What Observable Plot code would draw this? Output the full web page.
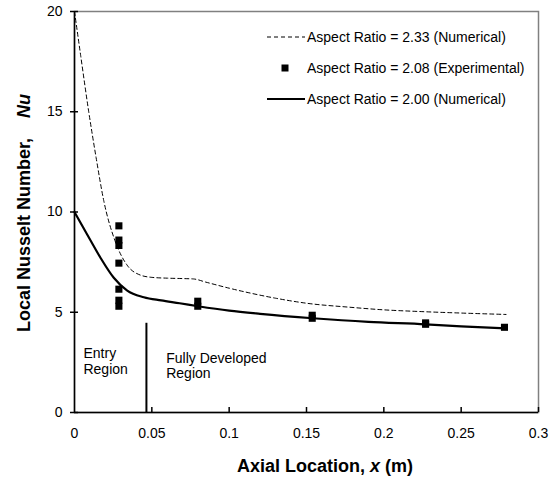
<!DOCTYPE html>
<html>
<head>
<meta charset="utf-8">
<script src="https://cdn.jsdelivr.net/npm/d3@7"></script>
<script src="https://cdn.jsdelivr.net/npm/@observablehq/plot@0.6"></script>
<style>
  html, body { margin: 0; padding: 0; background: white; }
</style>
</head>
<body>
<div id="chart"></div>
<script>
// ---- data ----
const xTicks = [0, 0.05, 0.1, 0.15, 0.2, 0.25, 0.3];
const yTicks = [0, 5, 10, 15, 20];

// Aspect Ratio = 2.33 (Numerical), dashed
const ar233X = [0, 0.004, 0.0092, 0.014, 0.0189, 0.0265, 0.034, 0.0427, 0.05, 0.06, 0.07, 0.077, 0.085, 0.1, 0.114, 0.13, 0.15, 0.178, 0.2, 0.222, 0.25, 0.279];
const ar233Y = [20, 17.8, 15.0, 12.7, 10.57, 8.5, 7.35, 6.85, 6.74, 6.7, 6.68, 6.66, 6.5, 6.2, 5.95, 5.7, 5.45, 5.25, 5.12, 5.04, 4.96, 4.89];

// Aspect Ratio = 2.00 (Numerical), solid
const ar200X = [0, 0.005, 0.0093, 0.0168, 0.0254, 0.0341, 0.0448, 0.056, 0.068, 0.08, 0.1, 0.12, 0.154, 0.19, 0.227, 0.25, 0.279];
const ar200Y = [10, 9.31, 8.73, 7.72, 6.72, 6.08, 5.75, 5.59, 5.45, 5.3, 5.08, 4.92, 4.7, 4.52, 4.4, 4.3, 4.2];

// Aspect Ratio = 2.08 (Experimental), squares
const expX = [0.0287, 0.0287, 0.0287, 0.0287, 0.0287, 0.0287, 0.0287, 0.0797, 0.0797, 0.1537, 0.1537, 0.227, 0.227, 0.278];
const expY = [9.31, 8.6, 8.33, 7.45, 6.15, 5.6, 5.3, 5.55, 5.3, 4.85, 4.7, 4.47, 4.4, 4.25];

const legendLabels = [
  "Aspect Ratio = 2.33 (Numerical)",
  "Aspect Ratio = 2.08 (Experimental)",
  "Aspect Ratio = 2.00 (Numerical)"
];

const boundaryX = [0.0465];
const boundaryTop = [4.45];

const noteLabels = ["Entry\nRegion", "Fully Developed\nRegion"];
const noteX = [0.0058, 0.0593];
const noteY = [2.57, 2.35];

// ---- tables built from arrays ----
const ar233 = ar233X.map((x, i) => ({x, y: ar233Y[i]}));
const ar200 = ar200X.map((x, i) => ({x, y: ar200Y[i]}));
const exp = expX.map((x, i) => ({x, y: expY[i]}));
const boundary = boundaryX.map((x, i) => ({x, top: boundaryTop[i]}));
const notes = noteLabels.map((label, i) => ({label, x: noteX[i], y: noteY[i]}));

const font = "'Liberation Sans', Arial, Helvetica, sans-serif";

const chart = Plot.plot({
  width: 556,
  height: 477,
  marginLeft: 74,
  marginRight: 18,
  marginTop: 11,
  marginBottom: 65,
  style: {fontFamily: font, fontSize: "14px", background: "white", color: "black", overflow: "visible"},
  x: {domain: [0, 0.3]},
  y: {domain: [0, 20]},
  marks: [
    Plot.frame({stroke: "#808080", strokeWidth: 1.5}),
    // inward x ticks (5px) and crossing y ticks (8px)
    Plot.tickX(xTicks.slice(1), {x: d => d, insetTop: 396, stroke: "black", strokeWidth: 1.5}),
    Plot.tickY(yTicks, {y: d => d, insetRight: 456, dx: -4, stroke: "black", strokeWidth: 1.5}),
    Plot.ruleX([0], {stroke: "black", strokeWidth: 1.5}),
    Plot.ruleY([0], {stroke: "black", strokeWidth: 1.5}),
    Plot.axisX({ticks: xTicks, tickSize: 0, tickPadding: 16, tickFormat: d => String(d), label: null, fontSize: 14}),
    Plot.axisY({ticks: yTicks, tickSize: 0, tickPadding: 12, tickFormat: d => String(d), label: null, fontSize: 14}),
    Plot.ruleX(boundary, {x: "x", y1: 0, y2: "top", stroke: "black", strokeWidth: 2}),
    Plot.text(notes, {x: "x", y: "y", text: "label", textAnchor: "start", lineHeight: 1.1, fontSize: 14, fill: "black"}),
    Plot.line(ar233, {x: "x", y: "y", curve: "monotone-x", stroke: "black", strokeWidth: 1, strokeDasharray: "4,3"}),
    Plot.line(ar200, {x: "x", y: "y", curve: "monotone-x", stroke: "black", strokeWidth: 2.2}),
    Plot.dot(exp, {x: "x", y: "y", symbol: "square", r: 4, fill: "black", stroke: "none"})
  ]
});

document.getElementById("chart").appendChild(chart);

const svg = d3.select(chart);

// Axis titles
const xt = svg.append("text")
  .attr("x", 325).attr("y", 472)
  .attr("text-anchor", "middle")
  .attr("font-family", font).attr("font-size", 18).attr("font-weight", "bold")
  .attr("fill", "black");
xt.append("tspan").text("Axial Location, ");
xt.append("tspan").attr("font-style", "italic").text("x");
xt.append("tspan").text(" (m)");

const yt = svg.append("text")
  .attr("transform", "translate(30,213) rotate(-90)")
  .attr("text-anchor", "middle")
  .attr("font-family", font).attr("font-size", 18).attr("font-weight", "bold")
  .attr("fill", "black");
yt.append("tspan").text("Local Nusselt Number,\u00a0\u00a0\u00a0 ");
yt.append("tspan").attr("font-style", "italic").text("Nu");

// Legend
const lg = svg.append("g").attr("font-family", font).attr("font-size", 14)
  .attr("fill", "black").attr("text-anchor", "start");
const rowY = [37, 68, 99];
lg.append("line").attr("x1", 267).attr("x2", 305).attr("y1", rowY[0]).attr("y2", rowY[0])
  .attr("stroke", "black").attr("stroke-width", 1).attr("stroke-dasharray", "4,3");
lg.append("rect").attr("x", 281.5).attr("y", rowY[1] - 3.5).attr("width", 7).attr("height", 7).attr("fill", "black");
lg.append("line").attr("x1", 267).attr("x2", 305).attr("y1", rowY[2]).attr("y2", rowY[2])
  .attr("stroke", "black").attr("stroke-width", 2.2);
legendLabels.forEach((t, i) => {
  lg.append("text").attr("x", 307).attr("y", rowY[i] + 5).attr("text-anchor", "start").text(t);
});
</script>
</body>
</html>
